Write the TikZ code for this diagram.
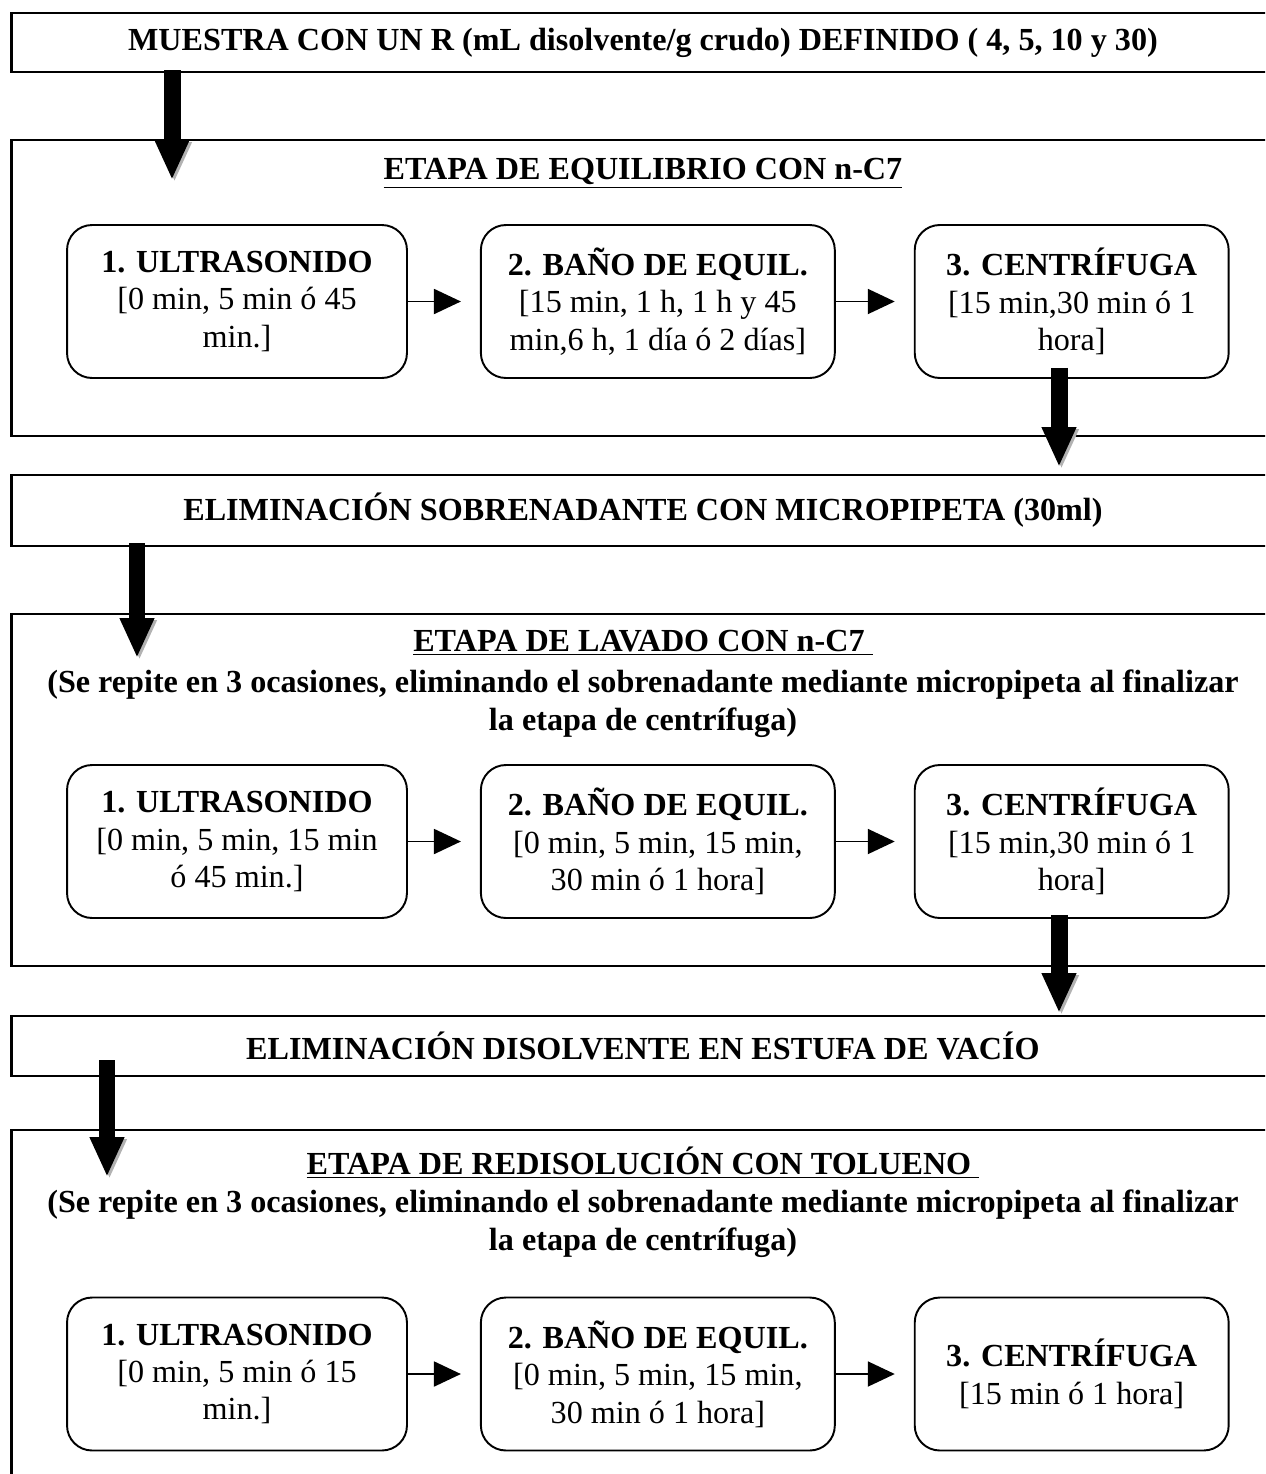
\documentclass[tikz,border=0pt]{standalone}
\usepackage{fontspec}
\setmainfont{Liberation Serif}
\usepackage{tikz}
\usetikzlibrary{arrows.meta, positioning}

\begin{document}
\begin{tikzpicture}[
    x=0.02cm, y=-0.02cm,
    node distance=1.44cm,
    font=\fontsize{18.3}{21.3}\selectfont,
    banner/.style={rectangle, draw, line width=1.6pt, minimum width=25.28cm, text centered, font=\fontsize{18.3}{21.3}\selectfont\bfseries},
    stage/.style={rectangle, draw, line width=1.6pt, minimum width=25.28cm},
    heading/.style={text centered, align=center, inner sep=0pt, font=\fontsize{18.3}{21.6}\selectfont\bfseries},
    stepbox/.style={rectangle, draw, line width=1.1pt, rounded corners=0.5cm, minimum height=3.06cm, align=center, inner sep=2pt},
    link/.style={line width=1.1pt, -{Triangle[length=0.54cm, width=0.5cm]}, shorten >=0.38cm},
    bigarrow/.style={line width=0.34cm, -{Triangle[length=0.8cm, width=0.64cm]},
        preaction={draw=black!30, transform canvas={shift={(0.05cm,-0.04cm)}}}}
]
\useasboundingbox (0,0) rectangle (1265,1474);
\clip (0,0) rectangle (1265,1474);

% Sample
\node[banner, minimum height=1.18cm] (muestra) at (643,42.5) {MUESTRA CON UN R (mL disolvente/g crudo) DEFINIDO ( 4, 5, 10 y 30)};

% Equilibrium stage
\node[stage, minimum height=5.92cm] (equil) at (643,288) {};
\node[heading] (titequil) at (643,173) {\underline{ETAPA DE EQUILIBRIO CON n-C7}};
\node[stepbox, minimum width=6.8cm] (ult1) at (237,301.5) {\textbf{1. ULTRASONIDO}\\{[}0 min, 5 min ó 45\\min.]};
\node[stepbox, minimum width=7.08cm, right=of ult1] (ban1) {\textbf{2. BAÑO DE EQUIL.}\\{[}15 min, 1 h, 1 h y 45\\min,6 h, 1 día ó 2 días]};
\node[stepbox, minimum width=6.28cm, right=1.56cm of ban1] (cen1) {\textbf{3. CENTRÍFUGA}\\{[}15 min,30 min ó 1\\hora]};

% Supernatant removal
\node[banner, minimum height=1.42cm] (elimsob) at (643,510.5) {ELIMINACIÓN SOBRENADANTE CON MICROPIPETA (30ml)};

% Washing stage
\node[stage, minimum height=7.04cm] (lavado) at (643,790) {};
\node[heading] (titlavado) at (643,643) {\underline{ETAPA DE LAVADO CON n-C7\ }};
\node[heading] (sublavado) at (643,704) {(Se repite en 3 ocasiones, eliminando el sobrenadante mediante micropipeta al finalizar\\la etapa de centrífuga)};
\node[stepbox, minimum width=6.8cm] (ult2) at (237,841.5) {\textbf{1. ULTRASONIDO}\\{[}0 min, 5 min, 15 min\\ó 45 min.]};
\node[stepbox, minimum width=7.08cm, right=of ult2] (ban2) {\textbf{2. BAÑO DE EQUIL.}\\{[}0 min, 5 min, 15 min,\\30 min ó 1 hora]};
\node[stepbox, minimum width=6.28cm, right=1.56cm of ban2] (cen2) {\textbf{3. CENTRÍFUGA}\\{[}15 min,30 min ó 1\\hora]};

% Solvent removal
\node[banner, minimum height=1.2cm] (elimdis) at (643,1046) {ELIMINACIÓN DISOLVENTE EN ESTUFA DE VACÍO};

% Redissolution stage
\node[stage, minimum height=7.4cm] (redis) at (643,1315) {};
\node[heading] (titredis) at (643,1163) {\underline{ETAPA DE REDISOLUCIÓN CON TOLUENO\ }};
\node[heading] (subredis) at (643,1224) {(Se repite en 3 ocasiones, eliminando el sobrenadante mediante micropipeta al finalizar\\la etapa de centrífuga)};
\node[stepbox, minimum width=6.8cm] (ult3) at (237,1374) {\textbf{1. ULTRASONIDO}\\{[}0 min, 5 min ó 15\\min.]};
\node[stepbox, minimum width=7.08cm, right=of ult3] (ban3) {\textbf{2. BAÑO DE EQUIL.}\\{[}0 min, 5 min, 15 min,\\30 min ó 1 hora]};
\node[stepbox, minimum width=6.28cm, right=1.56cm of ban3] (cen3) {\textbf{3. CENTRÍFUGA}\\{[}15 min ó 1 hora]};

% Arrow tips
\coordinate (tip1) at (172,180);
\coordinate (tip2) at (1059,467);
\coordinate (tip3) at (137,658);
\coordinate (tip4) at (1059,1013);
\coordinate (tip5) at (107,1177);

% Arrows
\draw[link] (ult1) -- (ban1);
\draw[link] (ban1) -- (cen1);
\draw[link] (ult2) -- (ban2);
\draw[link] (ban2) -- (cen2);
\draw[link] (ult3) -- (ban3);
\draw[link] (ban3) -- (cen3);
\draw[bigarrow] ([yshift=0.06cm]muestra.south -| tip1) -- (tip1);
\draw[bigarrow] ([yshift=0.22cm]cen1.south -| tip2) -- (tip2);
\draw[bigarrow] ([yshift=0.08cm]elimsob.south -| tip3) -- (tip3);
\draw[bigarrow] ([yshift=0.08cm]cen2.south -| tip4) -- (tip4);
\draw[bigarrow] ([yshift=0.34cm]elimdis.south -| tip5) -- (tip5);

\end{tikzpicture}
\end{document}
